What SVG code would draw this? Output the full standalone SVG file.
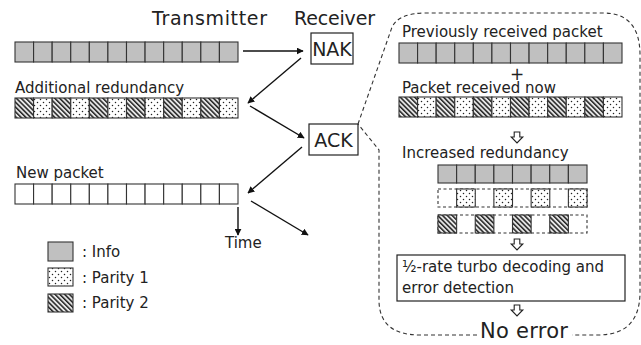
<svg xmlns="http://www.w3.org/2000/svg" xmlns:xlink="http://www.w3.org/1999/xlink" width="641" height="345" viewBox="0 0 641 345">
  <style>
    text { font-family: "DejaVu Sans", "Liberation Sans", sans-serif; fill: #222; }
    .title { font-size: 19px; }
    .lbl { font-size: 15px; }
    .big { font-size: 21px; }
    .cell { stroke: #333; stroke-width: 1.1; }
    .info { fill: #c0c0c0; }
    .p1 { fill: url(#dots); }
    .p2 { fill: url(#hatch); }
    .blank { fill: #fff; }
    .dash { fill: none; stroke: #333; stroke-width: 1.1; stroke-dasharray: 3 2.5; }
    .box { fill: #fff; stroke: #222; stroke-width: 1.2; }
    .conn { fill: none; stroke: #111; stroke-width: 1.4; }
    .hollow { fill: #fff; stroke: #222; stroke-width: 1.1; }
    .callout { fill: none; stroke: #333; stroke-width: 1.1; stroke-dasharray: 4 3; }
  </style>
  <defs>
    <pattern id="dots" width="6" height="6" patternUnits="userSpaceOnUse">
      <rect width="6" height="6" fill="#fff"/>
      <circle cx="1.5" cy="1.5" r="0.75" fill="#222"/>
      <circle cx="4.5" cy="4.5" r="0.75" fill="#222"/>
    </pattern>
    <pattern id="hatch" width="3.4" height="3.4" patternUnits="userSpaceOnUse" patternTransform="rotate(-45)">
      <rect width="3.4" height="3.4" fill="#e6e6e6"/>
      <rect width="1.5" height="3.4" fill="#222"/>
    </pattern>
    <marker id="head" viewBox="0 0 10 10" refX="9" refY="5" markerWidth="7" markerHeight="7" markerUnits="userSpaceOnUse" orient="auto">
      <path d="M0,0 L10,5 L0,10 z" fill="#111"/>
    </marker>
    <!-- 12-cell packets, 18.58 px per cell -->
    <g id="pkt-info">
      <rect class="cell info" x="0" y="0" width="18.58" height="20"/>
      <rect class="cell info" x="18.58" y="0" width="18.58" height="20"/>
      <rect class="cell info" x="37.17" y="0" width="18.58" height="20"/>
      <rect class="cell info" x="55.75" y="0" width="18.58" height="20"/>
      <rect class="cell info" x="74.33" y="0" width="18.58" height="20"/>
      <rect class="cell info" x="92.92" y="0" width="18.58" height="20"/>
      <rect class="cell info" x="111.5" y="0" width="18.58" height="20"/>
      <rect class="cell info" x="130.08" y="0" width="18.58" height="20"/>
      <rect class="cell info" x="148.67" y="0" width="18.58" height="20"/>
      <rect class="cell info" x="167.25" y="0" width="18.58" height="20"/>
      <rect class="cell info" x="185.83" y="0" width="18.58" height="20"/>
      <rect class="cell info" x="204.42" y="0" width="18.58" height="20"/>
    </g>
    <g id="pkt-parity">
      <rect class="cell p2" x="0" y="0" width="18.58" height="20"/>
      <rect class="cell p1" x="18.58" y="0" width="18.58" height="20"/>
      <rect class="cell p2" x="37.17" y="0" width="18.58" height="20"/>
      <rect class="cell p1" x="55.75" y="0" width="18.58" height="20"/>
      <rect class="cell p2" x="74.33" y="0" width="18.58" height="20"/>
      <rect class="cell p1" x="92.92" y="0" width="18.58" height="20"/>
      <rect class="cell p2" x="111.5" y="0" width="18.58" height="20"/>
      <rect class="cell p1" x="130.08" y="0" width="18.58" height="20"/>
      <rect class="cell p2" x="148.67" y="0" width="18.58" height="20"/>
      <rect class="cell p1" x="167.25" y="0" width="18.58" height="20"/>
      <rect class="cell p2" x="185.83" y="0" width="18.58" height="20"/>
      <rect class="cell p1" x="204.42" y="0" width="18.58" height="20"/>
    </g>
    <g id="pkt-new">
      <rect class="cell blank" x="0" y="0" width="18.58" height="20"/>
      <rect class="cell blank" x="18.58" y="0" width="18.58" height="20"/>
      <rect class="cell blank" x="37.17" y="0" width="18.58" height="20"/>
      <rect class="cell blank" x="55.75" y="0" width="18.58" height="20"/>
      <rect class="cell blank" x="74.33" y="0" width="18.58" height="20"/>
      <rect class="cell blank" x="92.92" y="0" width="18.58" height="20"/>
      <rect class="cell blank" x="111.5" y="0" width="18.58" height="20"/>
      <rect class="cell blank" x="130.08" y="0" width="18.58" height="20"/>
      <rect class="cell blank" x="148.67" y="0" width="18.58" height="20"/>
      <rect class="cell blank" x="167.25" y="0" width="18.58" height="20"/>
      <rect class="cell blank" x="185.83" y="0" width="18.58" height="20"/>
      <rect class="cell blank" x="204.42" y="0" width="18.58" height="20"/>
    </g>
    <!-- hollow down arrow, top centre at (0,0) -->
    <polygon id="down" class="hollow" points="-2.8,0 2.8,0 2.8,5 5.8,5 0,11 -5.8,5 -2.8,5"/>
  </defs>

  <!-- headings -->
  <g id="headings">
    <text class="title" x="152" y="25" textLength="115" lengthAdjust="spacing">Transmitter</text>
    <text class="title" x="294" y="25" textLength="81" lengthAdjust="spacing">Receiver</text>
  </g>

  <!-- transmitter side -->
  <g id="tx-packet">
    <use xlink:href="#pkt-info" x="15" y="42"/>
  </g>
  <g id="tx-redundancy">
    <text class="lbl" x="15" y="93">Additional redundancy</text>
    <use xlink:href="#pkt-parity" x="15" y="98"/>
  </g>
  <g id="tx-new-packet">
    <text class="lbl" x="16" y="178">New packet</text>
    <use xlink:href="#pkt-new" x="15" y="184"/>
  </g>
  <g id="time-label">
    <text class="lbl" x="225" y="248">Time</text>
  </g>

  <!-- receiver responses -->
  <g id="nak">
    <rect class="box" x="311" y="33" width="42" height="31"/>
    <text class="title" x="332" y="56" text-anchor="middle">NAK</text>
  </g>
  <g id="ack">
    <rect class="box" x="309" y="124" width="49" height="31"/>
    <text class="title" x="333.5" y="147" text-anchor="middle">ACK</text>
  </g>

  <!-- connectors -->
  <g id="connectors">
    <line class="conn" x1="243" y1="51" x2="303" y2="51" marker-end="url(#head)"/>
    <line class="conn" x1="301" y1="58" x2="248" y2="103" marker-end="url(#head)"/>
    <line class="conn" x1="250" y1="106" x2="304" y2="138" marker-end="url(#head)"/>
    <line class="conn" x1="302" y1="147" x2="248" y2="193" marker-end="url(#head)"/>
    <line class="conn" x1="251" y1="201" x2="308" y2="235" marker-end="url(#head)"/>
    <line class="conn" x1="238" y1="207" x2="238" y2="235" marker-end="url(#head)"/>
  </g>

  <!-- legend -->
  <g id="legend">
    <rect class="cell info" x="48" y="242" width="25" height="19"/>
    <text class="lbl" x="82" y="257">: Info</text>
    <rect class="cell p1" x="48" y="268" width="25" height="18"/>
    <text class="lbl" x="82" y="283">: Parity 1</text>
    <rect class="cell p2" x="48" y="294" width="25" height="18"/>
    <text class="lbl" x="82" y="308">: Parity 2</text>
  </g>

  <!-- receiver detail callout -->
  <g id="callout">
    <path class="callout" d="M358,124 L391,30 Q396,13 426,13 L603,13 Q640,13 640,55 L640,292 Q640,335 598,335 L572,335"/>
    <path class="callout" d="M477,335 L420,335 Q379,335 379,300 L379,150 L358,124"/>
  </g>

  <g id="rx-previous">
    <text class="lbl" x="402" y="37">Previously received packet</text>
    <use xlink:href="#pkt-info" x="399" y="43"/>
  </g>
  <g id="rx-plus">
    <text x="517" y="80" font-size="17" text-anchor="middle">+</text>
  </g>
  <g id="rx-now">
    <text class="lbl" x="402" y="93">Packet received now</text>
    <use xlink:href="#pkt-parity" x="399" y="97"/>
  </g>
  <use xlink:href="#down" x="517" y="132"/>

  <g id="rx-increased">
    <text class="lbl" x="402" y="158">Increased redundancy</text>
    <!-- info row -->
    <rect class="cell info" x="438" y="165" width="18.63" height="18"/>
    <rect class="cell info" x="456.63" y="165" width="18.63" height="18"/>
    <rect class="cell info" x="475.25" y="165" width="18.63" height="18"/>
    <rect class="cell info" x="493.88" y="165" width="18.63" height="18"/>
    <rect class="cell info" x="512.5" y="165" width="18.63" height="18"/>
    <rect class="cell info" x="531.13" y="165" width="18.63" height="18"/>
    <rect class="cell info" x="549.75" y="165" width="18.63" height="18"/>
    <rect class="cell info" x="568.38" y="165" width="18.63" height="18"/>
    <!-- parity 1 row -->
    <rect class="dash" x="438" y="189" width="149" height="18"/>
    <rect class="cell p1" x="456.63" y="189" width="18.63" height="18"/>
    <rect class="cell p1" x="493.88" y="189" width="18.63" height="18"/>
    <rect class="cell p1" x="531.13" y="189" width="18.63" height="18"/>
    <rect class="cell p1" x="568.38" y="189" width="18.63" height="18"/>
    <!-- parity 2 row -->
    <rect class="dash" x="438" y="215" width="149" height="18"/>
    <rect class="cell p2" x="438" y="215" width="18.63" height="18"/>
    <rect class="cell p2" x="475.25" y="215" width="18.63" height="18"/>
    <rect class="cell p2" x="512.5" y="215" width="18.63" height="18"/>
    <rect class="cell p2" x="549.75" y="215" width="18.63" height="18"/>
  </g>
  <use xlink:href="#down" x="517" y="239"/>

  <g id="decoder">
    <rect class="box" x="397" y="255" width="228" height="46"/>
    <text class="lbl" x="402" y="272">½-rate turbo decoding and</text>
    <text class="lbl" x="402" y="293">error detection</text>
  </g>
  <use xlink:href="#down" x="517" y="305"/>

  <g id="result">
    <text class="big" x="480" y="338" textLength="88" lengthAdjust="spacing">No error</text>
  </g>
</svg>
